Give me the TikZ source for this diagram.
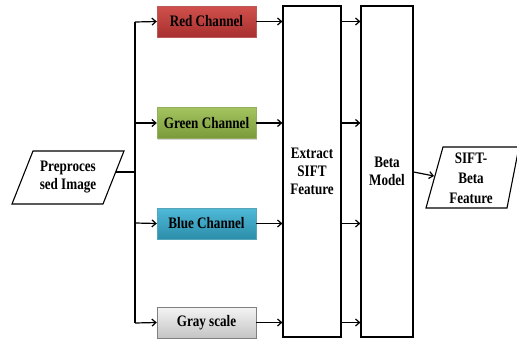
\documentclass[tikz,border=0pt]{standalone}
\usepackage{fontspec}
\setmainfont{Liberation Serif}[FakeStretch=0.82]
\usetikzlibrary{arrows.meta,shadows}
\definecolor{redtop}{HTML}{D0504D}
\definecolor{redbot}{HTML}{A8302E}
\definecolor{greentop}{HTML}{A4C460}
\definecolor{greenbot}{HTML}{7A9A3A}
\definecolor{bluetop}{HTML}{4FBAD8}
\definecolor{bluebot}{HTML}{2C8EAA}
\definecolor{graytop}{HTML}{F4F4F4}
\definecolor{graybot}{HTML}{C4C4C4}
\tikzset{
  chan/.style={minimum width=99pt,minimum height=31pt,inner sep=0pt,font=\fontsize{16}{18}\selectfont\bfseries,
    drop shadow={shadow xshift=1.2pt,shadow yshift=-1.2pt,opacity=0.35}},
  tall/.style={draw,line width=1.2pt,inner sep=0pt,font=\fontsize{16}{18}\selectfont\bfseries,align=center},
  conn/.style={line width=1.2pt,-{Straight Barb[length=4pt,width=7pt]}},
  plain/.style={line width=1.2pt},
  txt/.style={font=\fontsize{16}{18}\selectfont\bfseries,align=center}
}
\begin{document}
\begin{tikzpicture}[x=1pt,y=-1pt]
\useasboundingbox (0,0) rectangle (517,340);
% left parallelogram
\draw[line width=1.1pt] (33,151) -- (124,151) -- (103,204) -- (12,204) -- cycle;
\node[txt] (pre) at (68,177.5) {Preproces\\sed Image};
\coordinate (preout) at (116,172);
\coordinate (trunk) at (135,172);
\coordinate (ttop) at (135,22);
\coordinate (tg) at (135,123);
\coordinate (tb) at (135,223);
\coordinate (tbot) at (135,323);
% channel boxes
\node[chan,top color=redtop,bottom color=redbot,draw=redbot!80!white] (red) at (206.5,21.5) {Red Channel};
\node[chan,top color=greentop,bottom color=greenbot,draw=greenbot!80!white] (green) at (206.5,123) {Green Channel};
\node[chan,top color=bluetop,bottom color=bluebot,draw=bluebot!80!white] (blue) at (206.5,223.5) {Blue Channel};
\node[chan,top color=graytop,bottom color=graybot,draw=gray] (gray) at (206.5,322.5) {Gray scale};
% tall boxes
\node[tall,minimum width=58pt,minimum height=331pt] (sift) at (312,171.5) {Extract\\SIFT\\Feature};
\node[tall,minimum width=52pt,minimum height=331pt] (beta) at (387,171.5) {Beta\\Model};
% output parallelogram
\draw[line width=1.1pt] (443,147) -- (519,147) -- (507,208) -- (426,208) -- cycle;
\node[txt,font=\fontsize{16}{20}\selectfont\bfseries] (out) at (471,178) {SIFT-\\Beta\\Feature};
\coordinate (outin) at (434,176);
% connectors
\draw[plain] (preout) -- (trunk);
\draw[plain] (tbot) -- (ttop);
\draw[conn] (ttop) -- (red.west);
\draw[conn] (tg) -- (green.west);
\draw[conn] (tb) -- (blue.west);
\draw[conn] (tbot) -- (gray.west);
\draw[conn] (red.east) -- (sift.west |- red.east);
\draw[conn] (green.east) -- (sift.west |- green.east);
\draw[conn] (blue.east) -- (sift.west |- blue.east);
\draw[conn] (gray.east) -- (sift.west |- gray.east);
\draw[conn] (sift.east |- red.east) -- (beta.west |- red.east);
\draw[conn] (sift.east |- green.east) -- (beta.west |- green.east);
\draw[conn] (sift.east |- blue.east) -- (beta.west |- blue.east);
\draw[conn] (sift.east |- gray.east) -- (beta.west |- gray.east);
\draw[conn] (beta.east |- 0,172) -- (outin);
\end{tikzpicture}
\end{document}
